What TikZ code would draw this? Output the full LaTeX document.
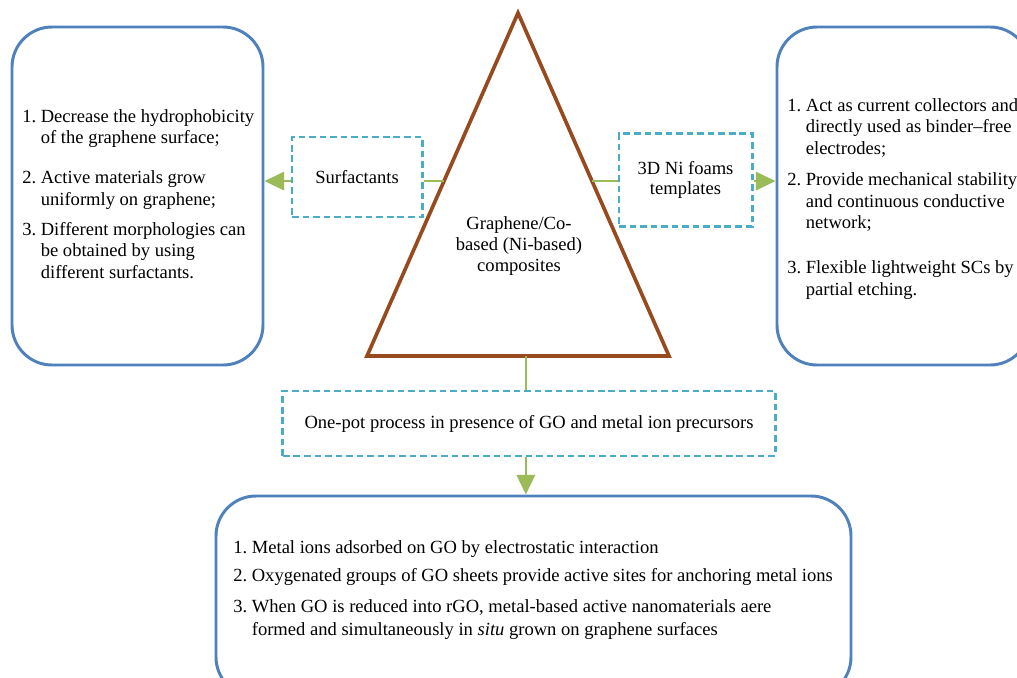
\documentclass[tikz,border=0pt]{standalone}
\usepackage{fontspec}
\setmainfont{Liberation Serif}
\usetikzlibrary{arrows.meta,calc,fit}
\definecolor{boxblue}{HTML}{4F81BD}
\definecolor{tribrown}{HTML}{984A1F}
\definecolor{dashcyan}{HTML}{4BACC6}
\definecolor{linkgreen}{HTML}{9BBB59}
\tikzset{
  >={Triangle[length=14pt,width=13pt]},
  % rutor
  bx/.style={draw=boxblue,line width=2.1pt,rounded corners=1cm,inner sep=0pt},
  db/.style={draw=dashcyan,line width=2.1pt,dash pattern=on 4.7pt off 2.8pt,
             inner sep=0pt,align=center},
  tri/.style={draw=tribrown,line width=2.6pt,line join=miter},
  % text
  lst/.style={inner sep=0pt,anchor=base west},
  ct/.style={inner sep=0pt,anchor=base},
  % länkar
  ln/.style={draw=linkgreen,line width=1.8pt},
  ar/.style={->,draw=linkgreen,line width=1.8pt},
}
\begin{document}
\begin{tikzpicture}[x=0.025cm,y=-0.025cm,
  every node/.append style={font=\fontsize{13.2}{15.5}\selectfont}]
  \path[use as bounding box,fill=white] (0,0) rectangle (1017,677);
  % triangeln
  \coordinate (ap) at (518,13);
  \coordinate (bl) at (367,356);
  \coordinate (br) at (669,356);
  \draw[tri] (ap) -- (bl) -- (br) -- cycle;
  \coordinate (sl) at ($(ap)!0.49!(bl)$);
  \coordinate (sr) at ($(ap)!0.49!(br)$);
  \coordinate (sb) at ($(bl)!0.526!(br)$);
  \node[ct,font=\fontsize{13.2}{15}\selectfont] (comp) at (519,229)
    {\begin{tabular}[t]{@{}c@{}}Graphene/Co-\\based (Ni-based)\\composites\end{tabular}};
  % rutor
  \node[bx,fit={(12,27)(263,365)}] (lft) {};
  \node[bx,fit={(777,27)(1030,365)}] (rgt) {};
  \node[bx,fit={(216,496)(851,697)}] (bot) {};
  \node[db,minimum width=3.25cm,minimum height=2cm] (surf) at (357,177) {Surfactants};
  \node[db,minimum width=3.325cm,minimum height=2.325cm,
        font=\fontsize{13.2}{14.5}\selectfont] (foam) at (685.5,180)
    {3D Ni foams\\templates};
  \node[db,minimum width=12.3cm,minimum height=1.625cm] (pot) at (529,423.5)
    {One-pot process in presence of GO and metal ion precursors};
  % listor
  \node[lst] (ltx) at (22,122) {\begin{tabular}[t]{@{}l@{\ }l@{}}
    1. & Decrease the hydrophobicity\\
       & of the graphene surface;\\[12.8pt]
    2. & Active materials grow\\
       & uniformly on graphene;\\[5.7pt]
    3. & Different morphologies can\\
       & be obtained by using\\
       & different surfactants.
  \end{tabular}};
  \node[lst] (rtx) at (787,111) {\begin{tabular}[t]{@{}l@{\ }l@{}}
    1. & Act as current collectors and\\
       & directly used as binder--free\\
       & electrodes;\\[6.4pt]
    2. & Provide mechanical stability\\
       & and continuous conductive\\
       & network;\\[16pt]
    3. & Flexible lightweight SCs by\\
       & partial etching.
  \end{tabular}};
  \node[lst,font=\fontsize{13.2}{16}\selectfont] (btx) at (233,553)
    {\begin{tabular}[t]{@{}l@{\ }l@{}}
    1. & Metal ions adsorbed on GO by electrostatic interaction\\[4.5pt]
    2. & Oxygenated groups of GO sheets provide active sites for anchoring metal ions\\[6pt]
    3. & When GO is reduced into rGO, metal-based active nanomaterials aere\\
       & formed and simultaneously in \textit{situ} grown on graphene surfaces
  \end{tabular}};
  % länkar
  \draw[ln] (sl) -- (surf.east |- sl);
  \draw[ar] (surf.west |- sl) -- (lft.east |- sl);
  \draw[ln] (sr) -- (foam.west |- sr);
  \draw[ar] (foam.east |- sr) -- (rgt.west |- sr);
  \draw[ln] (sb) -- (sb |- pot.north);
  \draw[ar] (sb |- pot.south) -- (sb |- bot.north);
\end{tikzpicture}
\end{document}
